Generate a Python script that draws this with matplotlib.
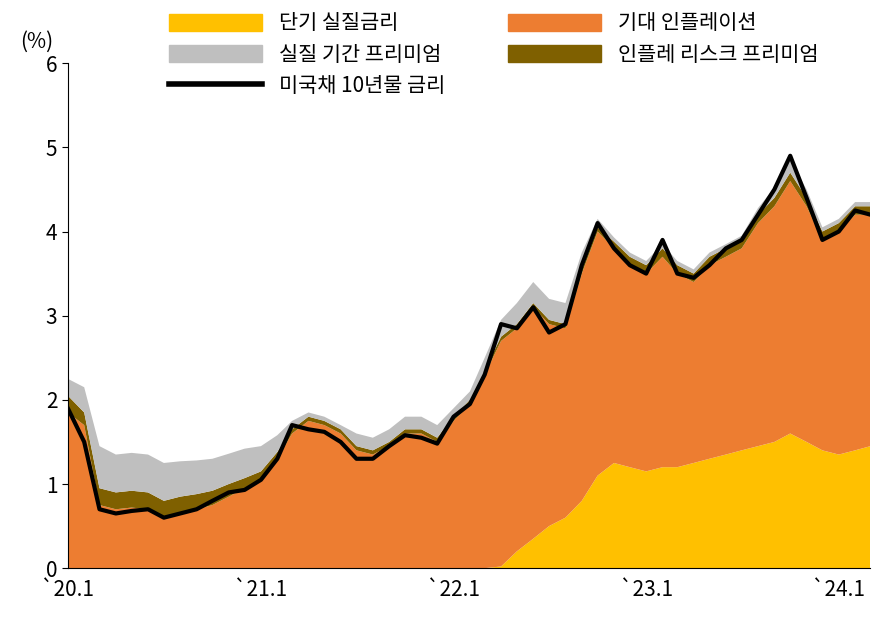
import matplotlib
matplotlib.use("Agg")
import matplotlib.pyplot as plt
import pandas as pd
from matplotlib.patches import Patch
from matplotlib.lines import Line2D

plt.rcParams["font.family"] = ["Noto Sans CJK KR", "Noto Sans CJK JP", "Noto Sans CJK SC", "DejaVu Sans"]

dates = pd.date_range("2020-01-01", periods=51, freq="MS")
short_real = [0,0,0,0,0,0,0,0,0,0,0,0,
              0,0,0,0,0,0,0,0,0,0,0,0,
              0,0,0,0.02,0.2,0.35,0.5,0.6,0.8,1.1,1.25,1.2,
              1.15,1.2,1.2,1.25,1.3,1.35,1.4,1.45,1.5,1.6,1.5,1.4,
              1.35,1.4,1.45]
orange_top = [1.85,1.7,0.75,0.7,0.72,0.7,0.6,0.65,0.7,0.75,0.85,0.95,
              1.05,1.3,1.6,1.75,1.7,1.6,1.4,1.35,1.45,1.6,1.6,1.5,
              1.75,1.95,2.3,2.7,2.85,3.1,2.9,2.85,3.5,4.0,3.8,3.6,
              3.5,3.7,3.5,3.4,3.6,3.7,3.8,4.1,4.3,4.6,4.3,3.9,
              4.0,4.2,4.2]
infl_risk = [0.2,0.15,0.2,0.2,0.2,0.2,0.2,0.2,0.18,0.17,0.15,0.12,
             0.1,0.08,0.05,0.05,0.05,0.05,0.05,0.05,0.05,0.05,0.05,0.05,
             0.05,0.05,0.05,0.05,0.05,0.05,0.05,0.05,0.05,0.05,0.08,0.1,
             0.1,0.1,0.1,0.1,0.1,0.1,0.1,0.1,0.1,0.1,0.1,0.1,
             0.1,0.1,0.1]
term_prem = [0.2,0.3,0.5,0.45,0.45,0.45,0.45,0.42,0.4,0.38,0.36,0.35,
             0.3,0.2,0.1,0.05,0.05,0.05,0.15,0.15,0.15,0.15,0.15,0.15,
             0.1,0.1,0.15,0.2,0.25,0.25,0.25,0.25,0.2,0.1,0.05,0.05,
             0.05,0.05,0.05,0.05,0.05,0.05,0.05,0.08,0.12,0.15,0.1,0.05,
             0.05,0.05,0.05]
yield10 = [1.9,1.5,0.7,0.65,0.68,0.7,0.6,0.65,0.7,0.8,0.9,0.93,
           1.05,1.3,1.7,1.65,1.62,1.5,1.3,1.3,1.45,1.58,1.55,1.48,
           1.8,1.95,2.3,2.9,2.85,3.1,2.8,2.9,3.6,4.1,3.8,3.6,
           3.5,3.9,3.5,3.45,3.6,3.8,3.9,4.2,4.5,4.9,4.4,3.9,
           4.0,4.25,4.2]
xticks = ["2020-01-01","2021-01-01","2022-01-01","2023-01-01","2024-01-01"]
xticklabels = ["`20.1","`21.1","`22.1","`23.1","`24.1"]

expected_infl = [o - s for o, s in zip(orange_top, short_real)]
colors = ["#FFC000", "#ED7D31", "#7F6000", "#BFBFBF"]

fig = plt.figure(figsize=(8.81, 6.32), dpi=100)
ax = fig.add_axes([0.077, 0.101, 0.911, 0.799])
ax.stackplot(dates, short_real, expected_infl, infl_risk, term_prem,
             colors=colors, linewidth=0)
ax.plot(dates, yield10, color="black", lw=3)

ax.set_xlim(pd.Timestamp("2020-01-01"), pd.Timestamp("2024-03-01"))
ax.set_ylim(0, 6)
ax.set_yticks(range(7))
ax.set_xticks(pd.to_datetime(xticks))
ax.set_xticklabels(xticklabels)
ax.tick_params(labelsize=15, length=4, direction="out")
ax.tick_params(axis="x", length=0, pad=8)
for s in ["top", "right"]:
    ax.spines[s].set_visible(False)
ax.text(-0.06, 1.03, "(%)", transform=ax.transAxes, fontsize=15)

handles = [Patch(color="#FFC000"), Patch(color="#ED7D31"), Patch(color="#BFBFBF"),
           Patch(color="#7F6000"), Line2D([], [], color="black", lw=4)]
labels = ["단기 실질금리", "기대 인플레이션", "실질 기간 프리미엄", "인플레 리스크 프리미엄", "미국채 10년물 금리"]
order = [0, 2, 4, 1, 3]
fig.legend([handles[i] for i in order], [labels[i] for i in order], ncol=2,
           loc="upper left", bbox_to_anchor=(0.17, 1.01), frameon=False, fontsize=15,
           handlelength=4.5, handleheight=0.9, columnspacing=3, labelspacing=0.45)
fig.savefig("out.png", dpi=100)
